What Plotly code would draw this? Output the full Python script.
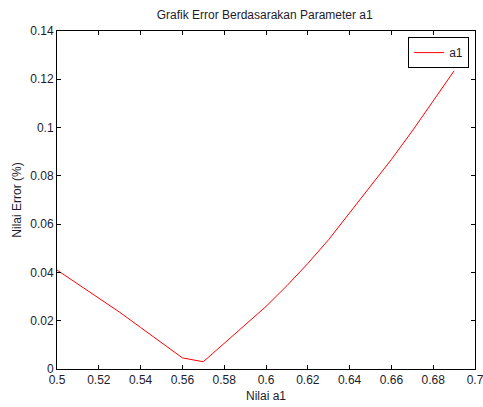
import plotly.graph_objects as go

# Parameter a1 and resulting error (%)
a1_values = [0.50, 0.51, 0.52, 0.53, 0.54, 0.55, 0.56, 0.57, 0.58, 0.59,
             0.60, 0.61, 0.62, 0.63, 0.64, 0.65, 0.66, 0.67, 0.68, 0.69]
error_values = [0.0410, 0.0352, 0.0295, 0.0235, 0.0172, 0.0108, 0.0046, 0.0030, 0.0106, 0.0182,
                0.0259, 0.0345, 0.0437, 0.0536, 0.0648, 0.0757, 0.0868, 0.0986, 0.1110, 0.1235]

x_ticks = [0.5, 0.52, 0.54, 0.56, 0.58, 0.6, 0.62, 0.64, 0.66, 0.68, 0.7]
x_tick_labels = ["0.5", "0.52", "0.54", "0.56", "0.58", "0.6", "0.62", "0.64", "0.66", "0.68", "0.7"]
y_ticks = [0, 0.02, 0.04, 0.06, 0.08, 0.1, 0.12, 0.14]
y_tick_labels = ["0", "0.02", "0.04", "0.06", "0.08", "0.1", "0.12", "0.14"]

font_family = "Liberation Sans, Arial, sans-serif"
text_color = "#1c1c2e"

fig = go.Figure()
fig.add_trace(go.Scatter(
    x=a1_values, y=error_values, mode="lines", name="a1",
    line=dict(color="#ff0000", width=1),
))

axis_common = dict(
    showgrid=False, zeroline=False, showline=True, linecolor="#000000", linewidth=1,
    mirror="ticks", ticks="inside", ticklen=4, tickcolor="#000000", tickwidth=1,
    tickfont=dict(family=font_family, size=12, color=text_color),
    ticklabeloverflow="allow",
)

fig.update_layout(
    width=483, height=407,
    margin=dict(l=57, r=8, t=31, b=38),
    paper_bgcolor="#ffffff", plot_bgcolor="#ffffff",
    font=dict(family=font_family, size=12, color=text_color),
    title=dict(text="Grafik Error Berdasarakan Parameter a1", x=0.548, xanchor="center",
               y=0.963, yanchor="middle", font=dict(size=12, color=text_color)),
    xaxis=dict(range=[0.5, 0.7], tickvals=x_ticks, ticktext=x_tick_labels,
               title=dict(text="Nilai a1", standoff=5, font=dict(size=12)),
               ticklabelstandoff=0, automargin=False, **axis_common),
    yaxis=dict(range=[0, 0.14], tickvals=y_ticks, ticktext=y_tick_labels,
               title=dict(text="Nilai Error (%)", standoff=6, font=dict(size=12)),
               ticklabelstandoff=0, automargin=False, **axis_common),
    showlegend=True,
    legend=dict(x=0.986, y=0.982, xanchor="right", yanchor="top",
                bgcolor="#ffffff", bordercolor="#000000", borderwidth=1,
                font=dict(size=12, color=text_color), itemwidth=30),
)

fig.write_html("out.html")
